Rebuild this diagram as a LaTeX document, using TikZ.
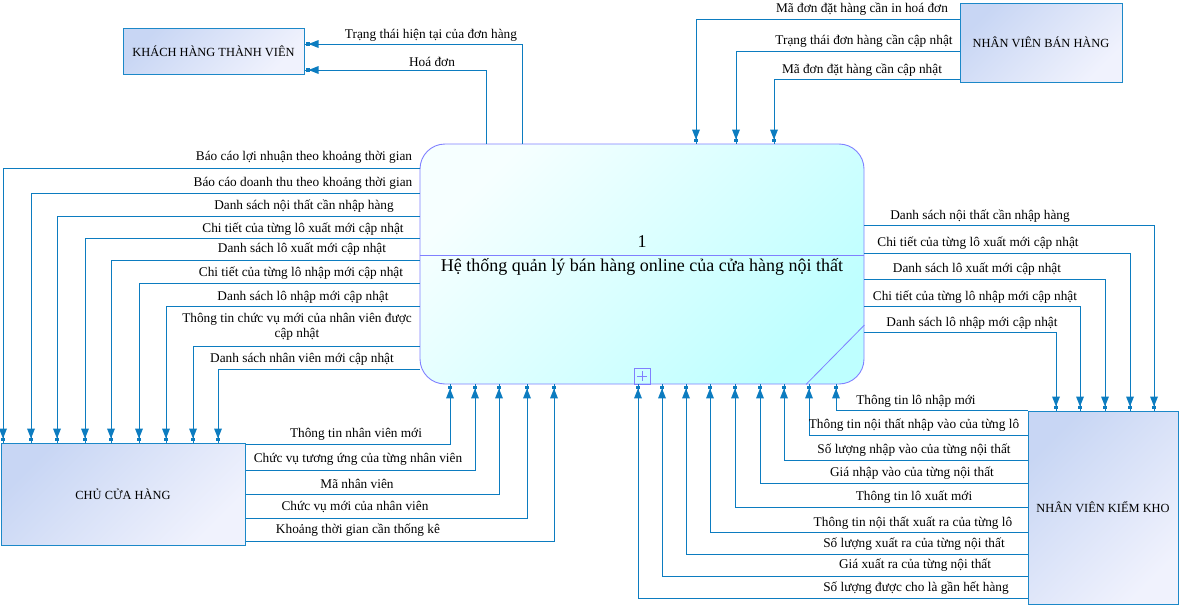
\documentclass[tikz,border=0pt]{standalone}
\usepackage{fontspec}
\setmainfont{Liberation Serif}
\usetikzlibrary{calc,decorations.markings}
\definecolor{lineblue}{RGB}{12,124,192}
\definecolor{entborder}{RGB}{28,136,200}
\definecolor{entA}{RGB}{200,214,244}
\definecolor{entB}{RGB}{240,242,253}
\definecolor{procborder}{RGB}{128,128,255}
\definecolor{procA}{RGB}{246,255,255}
\definecolor{procB}{RGB}{190,255,255}
\tikzset{
  flow/.style={draw=lineblue, line width=1pt,
    postaction={decorate, decoration={markings, mark=at position 1 with {
      \fill[lineblue] (-1.2pt,-1.9pt) rectangle (-5pt,1.9pt);
      \fill[lineblue] (-4pt,0pt) -- (-14pt,-4pt) -- (-14pt,4pt) -- cycle;}}}},
  ent/.style={draw=entborder, line width=1pt, top color=entA, bottom color=entB,
    shading angle=45, inner sep=0pt, font=\fontsize{12.4}{14}\selectfont},
  proc/.style={draw=procborder, line width=0.9pt, rounded corners=25pt,
    top color=procA, bottom color=procB, shading angle=45, inner sep=0pt},
  lbl/.style={inner sep=0pt, font=\fontsize{13.3}{14.5}\selectfont, align=center},
  ptxt/.style={inner sep=0pt, font=\fontsize{18}{20}\selectfont}
}
\begin{document}
\begin{tikzpicture}[x=1pt, y=-1pt]
\useasboundingbox (0,0) rectangle (1179,605);
% entities
\node[ent, minimum width=181pt, minimum height=46pt] (kh) at (213.5,51) {KHÁCH HÀNG THÀNH VIÊN};
\node[ent, minimum width=162pt, minimum height=79pt] (nvbh) at (1041,42.5) {NHÂN VIÊN BÁN HÀNG};
\node[ent, minimum width=244pt, minimum height=102pt] (chu) at (123,494) {CHỦ CỬA HÀNG};
\node[ent, minimum width=150pt, minimum height=193pt] (kho) at (1103,507.5) {NHÂN VIÊN KIỂM KHO};
% process
\node[proc, minimum width=444pt, minimum height=240pt] (p) at (642,264) {};
\draw[procborder, line width=0.8pt] (p.west |- 0,255) -- (p.east |- 0,255);
\draw[procborder, line width=0.8pt] (p.east |- 0,325) -- (p.south -| 806,0);
\node[ptxt] (pnum) at (642,242) {1};
\node[ptxt] (ptitle) at (642,267) {Hệ thống quản lý bán hàng online của cửa hàng nội thất};
\node[draw=procborder, line width=0.8pt, minimum size=16pt, inner sep=0pt] (plus) at (642,376) {};
\draw[procborder, line width=0.8pt] ($(plus.center)+(-5,0)$) -- ($(plus.center)+(5,0)$);
\draw[procborder, line width=0.8pt] ($(plus.center)+(0,-5)$) -- ($(plus.center)+(0,5)$);
% to KHACH HANG
\draw[flow] (p.north -| 522,0) |- (kh.east |- 0,44);
\node[lbl] (l1) at (431,35) {Trạng thái hiện tại của đơn hàng};
\draw[flow] (p.north -| 486,0) |- (kh.east |- 0,70);
\node[lbl] (l2) at (432,62) {Hoá đơn};
% from NV BAN HANG
\draw[flow] (nvbh.west |- 0,19) -| (p.north -| 696,0);
\node[lbl] (l3) at (862,9) {Mã đơn đặt hàng cần in hoá đơn};
\draw[flow] (nvbh.west |- 0,51) -| (p.north -| 736,0);
\node[lbl] (l4) at (864,41) {Trạng thái đơn hàng cần cập nhật};
\draw[flow] (nvbh.west |- 0,79) -| (p.north -| 774,0);
\node[lbl] (l5) at (862,70) {Mã đơn đặt hàng cần cập nhật};
% to CHU CUA HANG
\foreach \yy/\xx/\tt/\lx/\ly in {
  168/3/Báo cáo lợi nhuận theo khoảng thời gian/304/157,
  193/31/Báo cáo doanh thu theo khoảng thời gian/303/183,
  216/57/Danh sách nội thất cần nhập hàng/304/206,
  238/85/Chi tiết của từng lô xuất mới cập nhật/303/229,
  260/111/Danh sách lô xuất mới cập nhật/302/249,
  283/139/Chi tiết của từng lô nhập mới cập nhật/301/273,
  306/166/Danh sách lô nhập mới cập nhật/303/297,
  346/193/{Thông tin chức vụ mới của nhân viên được\\cập nhật}/297/327,
  369/218/Danh sách nhân viên mới cập nhật/302/359}{
  \draw[flow] (p.west |- 0,\yy) -| (chu.north -| \xx,0);
  \node[lbl] at (\lx,\ly) {\tt};
}
% from CHU CUA HANG
\foreach \yy/\xx/\tt/\lx/\ly in {
  444/450/Thông tin nhân viên mới/356/434,
  470/475/Chức vụ tương ứng của từng nhân viên/358/459,
  494/499/Mã nhân viên/357/484,
  518/527/Chức vụ mới của nhân viên/355/507,
  541/554/Khoảng thời gian cần thống kê/358/530}{
  \draw[flow] (chu.east |- 0,\yy) -| (p.south -| \xx,0);
  \node[lbl] at (\lx,\ly) {\tt};
}
% to KIEM KHO
\foreach \yy/\xx/\tt/\lx/\ly in {
  225/1154/Danh sách nội thất cần nhập hàng/980/216,
  253/1130/Chi tiết của từng lô xuất mới cập nhật/978/243,
  279/1105/Danh sách lô xuất mới cập nhật/977/269,
  306/1080/Chi tiết của từng lô nhập mới cập nhật/975/297,
  332/1056/Danh sách lô nhập mới cập nhật/972/323}{
  \draw[flow] (p.east |- 0,\yy) -| (kho.north -| \xx,0);
  \node[lbl] at (\lx,\ly) {\tt};
}
% from KIEM KHO
\foreach \yy/\xx/\tt/\lx/\ly in {
  410/836/Thông tin lô nhập mới/916/401,
  435/809/Thông tin nội thất nhập vào của từng lô/914/425,
  460/784/Số lượng nhập vào của từng nội thất/914/450,
  483/760/Giá nhập vào của từng nội thất/912/473,
  507/735/Thông tin lô xuất mới/914/497,
  532/710/Thông tin nội thất xuất ra của từng lô/913/523,
  554/686/Số lượng xuất ra của từng nội thất/914/544,
  576/662/Giá xuất ra của từng nội thất/915/565,
  598/638/Số lượng được cho là gần hết hàng/916/588}{
  \draw[flow] (kho.west |- 0,\yy) -| (p.south -| \xx,0);
  \node[lbl] at (\lx,\ly) {\tt};
}
\end{tikzpicture}
\end{document}
